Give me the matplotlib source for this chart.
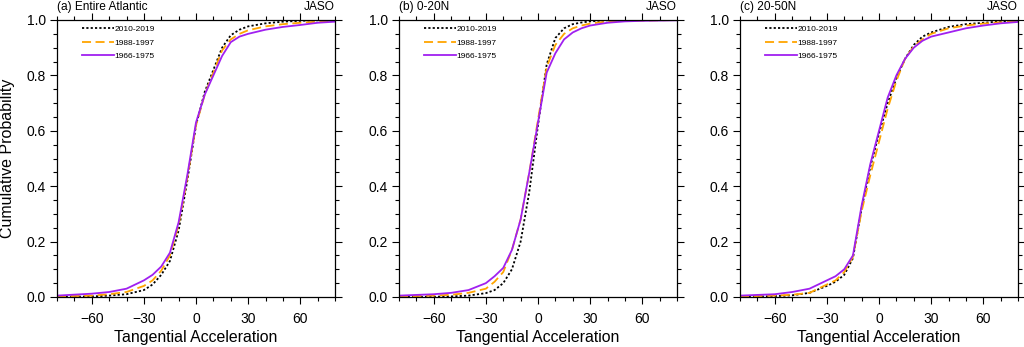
import numpy as np
import matplotlib
matplotlib.use("Agg")
import matplotlib.pyplot as plt
from matplotlib.ticker import MultipleLocator, FormatStrFormatter

plt.rcParams['font.family'] = ['Liberation Sans', 'DejaVu Sans']

# x positions of the CDF points (tangential acceleration)
acc = [-80, -60, -50, -40, -30, -25, -20, -15, -10, -5, 0, 5, 10, 15, 20, 25, 30, 40, 50, 60, 70, 80]

titles = ["(a) Entire Atlantic", "(b) 0-20N", "(c) 20-50N"]
labels = ["2010-2019", "1988-1997", "1966-1975"]

# (a) Entire Atlantic
a_2010 = [0.0, 0.002, 0.005, 0.01, 0.025, 0.045, 0.08, 0.13, 0.24, 0.42, 0.62, 0.74, 0.82, 0.90, 0.945, 0.965, 0.977, 0.988, 0.994, 0.997, 0.999, 1.0]
a_1988 = [0.002, 0.005, 0.01, 0.018, 0.04, 0.06, 0.095, 0.15, 0.26, 0.43, 0.62, 0.73, 0.81, 0.89, 0.93, 0.95, 0.963, 0.977, 0.985, 0.99, 0.994, 0.997]
a_1966 = [0.005, 0.012, 0.018, 0.03, 0.06, 0.08, 0.11, 0.16, 0.27, 0.44, 0.63, 0.73, 0.80, 0.87, 0.92, 0.94, 0.95, 0.965, 0.975, 0.982, 0.99, 0.994]

# (b) 0-20N
b_2010 = [0.0, 0.001, 0.002, 0.005, 0.014, 0.025, 0.05, 0.10, 0.20, 0.38, 0.62, 0.84, 0.935, 0.97, 0.985, 0.991, 0.995, 0.999, 1.0, 1.0, 1.0, 1.0]
b_1988 = [0.002, 0.005, 0.008, 0.015, 0.03, 0.055, 0.09, 0.17, 0.28, 0.45, 0.64, 0.83, 0.91, 0.95, 0.97, 0.98, 0.987, 0.995, 0.997, 0.998, 0.999, 1.0]
b_1966 = [0.005, 0.01, 0.015, 0.025, 0.05, 0.075, 0.105, 0.17, 0.28, 0.45, 0.63, 0.81, 0.88, 0.93, 0.955, 0.97, 0.98, 0.99, 0.995, 0.997, 0.998, 0.999]

# (c) 20-50N
c_2010 = [0.0, 0.003, 0.006, 0.015, 0.04, 0.055, 0.08, 0.14, 0.32, 0.47, 0.59, 0.70, 0.79, 0.86, 0.91, 0.94, 0.955, 0.975, 0.985, 0.99, 0.995, 0.998]
c_1988 = [0.002, 0.005, 0.008, 0.015, 0.045, 0.06, 0.09, 0.145, 0.31, 0.44, 0.56, 0.68, 0.78, 0.86, 0.905, 0.93, 0.95, 0.97, 0.98, 0.987, 0.992, 0.995]
c_1966 = [0.005, 0.01, 0.018, 0.03, 0.06, 0.075, 0.10, 0.15, 0.33, 0.48, 0.60, 0.72, 0.80, 0.86, 0.90, 0.925, 0.94, 0.955, 0.97, 0.98, 0.988, 0.993]

panels = [(a_2010, a_1988, a_1966), (b_2010, b_1988, b_1966), (c_2010, c_1988, c_1966)]
styles = [dict(color="black", ls=(0, (1.2, 1.2)), lw=1.3),
          dict(color="#FFA500", ls=(0, (5, 2.5)), lw=1.3),
          dict(color="#A020F0", ls="-", lw=1.3)]

fig = plt.figure(figsize=(10.24, 3.47), dpi=100)
lefts = [57, 399, 740]

for i, (left, series) in enumerate(zip(lefts, panels)):
    ax = fig.add_axes([left / 1024, 50 / 347, 278 / 1024, 277 / 347])
    for y, lab, st in zip(series, labels, styles):
        ax.plot(acc, y, label=lab, **st)
    ax.set_xlim(-80, 80)
    ax.set_ylim(0, 1)
    ax.xaxis.set_major_locator(MultipleLocator(30))
    ax.xaxis.set_minor_locator(MultipleLocator(10))
    ax.yaxis.set_major_locator(MultipleLocator(0.2))
    ax.yaxis.set_minor_locator(MultipleLocator(0.05))
    ax.yaxis.set_major_formatter(FormatStrFormatter("%.1f"))
    ax.tick_params(which="both", direction="out", top=True, right=True, labelsize=10, width=0.8)
    ax.tick_params(axis="x", pad=6)
    ax.tick_params(axis="y", pad=3)
    ax.tick_params(which="major", length=5)
    ax.tick_params(which="minor", length=3)
    for sp in ax.spines.values():
        sp.set_linewidth(0.9)
    ax.set_xlabel("Tangential Acceleration", fontsize=11.4, labelpad=2.5)
    if i == 0:
        ax.set_ylabel("Cumulative Probability", fontsize=11.5, labelpad=8)
    ax.set_title(titles[i], loc="left", fontsize=8.6, pad=7.5)
    ax.set_title("JASO", loc="right", fontsize=8.6, pad=7.5)
    leg = ax.legend(loc="upper left", bbox_to_anchor=(0.072, 1.0), frameon=False, fontsize=6,
                    handlelength=3.85, handletextpad=0.0, labelspacing=0.7, borderaxespad=0.2)

fig.savefig("out.png", dpi=100)
